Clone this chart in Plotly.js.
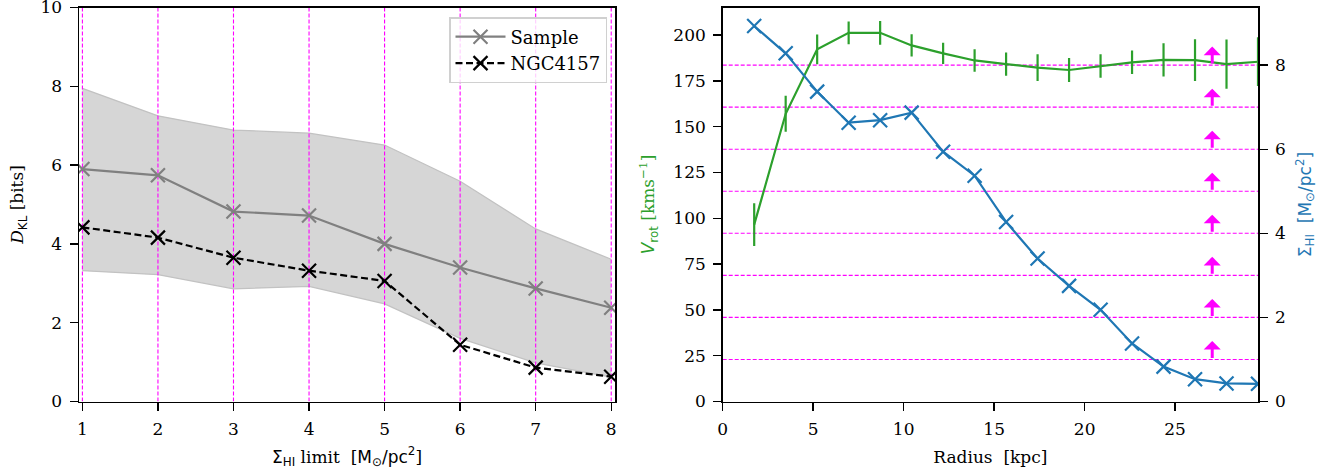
<!DOCTYPE html>
<html><head><meta charset="utf-8">
<script src="https://cdn.plot.ly/plotly-3.0.1.min.js"></script>
<style>html,body{margin:0;padding:0;background:#fff}#chart{width:1341px;height:475px}</style>
</head><body><div id="chart"></div>
<script>
// ---- Left panel data ----
const limits = [1, 2, 3, 4, 5, 6, 7, 8];
const sampleMedian = [5.90, 5.74, 4.82, 4.72, 4.00, 3.40, 2.87, 2.38];
const sampleUpper  = [7.95, 7.25, 6.89, 6.81, 6.51, 5.59, 4.38, 3.61];
const sampleLower  = [3.32, 3.22, 2.86, 2.92, 2.48, 1.60, 0.98, 0.62];
const ngcDkl       = [4.42, 4.16, 3.65, 3.32, 3.06, 1.44, 0.86, 0.63];

// ---- Right panel data ----
const radius  = [1.74, 3.48, 5.22, 6.96, 8.70, 10.44, 12.18, 13.92, 15.66, 17.40, 19.14, 20.88, 22.62, 24.36, 26.10, 27.84, 29.58];
const vrot    = [96.5, 157.0, 192.2, 201.2, 201.2, 194.3, 190.0, 186.1, 184.1, 182.2, 180.9, 183.1, 185.1, 186.4, 186.3, 184.1, 185.4];
const vrotErr = [11.7, 9.8, 8.1, 6.2, 6.5, 6.1, 5.8, 6.1, 6.3, 7.3, 6.5, 6.4, 6.4, 9.1, 11.4, 13.5, 13.3];
const sigmaHI = [8.93, 8.28, 7.37, 6.63, 6.69, 6.87, 5.94, 5.37, 4.27, 3.40, 2.75, 2.18, 1.38, 0.83, 0.53, 0.43, 0.42];
const sigmaLevels = [1, 2, 3, 4, 5, 6, 7, 8];
const arrowRadius = 27.05;
const arrowLen = 0.44;

const W = 1341, H = 475;
const fx = a => a / W, fy = b => 1 - b / H;
const SERIF = "DejaVu Serif";
const SANS = "DejaVu Sans";
const sans = t => `<span style="font-family:'DejaVu Sans'">${t}</span>`;
const MAG = "#ff00ff";

// magenta vertical lines (left)
const vx = [], vy = [];
limits.forEach(v => { vx.push(v, v, null); vy.push(0, 10, null); });

const traces = [
  {x: limits, y: sampleLower, mode: "lines", line: {color: "#c2c2c2", width: 1.3}, showlegend: false, hoverinfo: "skip", xaxis: "x", yaxis: "y"},
  {x: limits, y: sampleUpper, mode: "lines", fill: "tonexty", fillcolor: "#d6d6d6", line: {color: "#c2c2c2", width: 1.3}, showlegend: false, hoverinfo: "skip", xaxis: "x", yaxis: "y"},
  {x: vx, y: vy, mode: "lines", line: {color: MAG, width: 1.1, dash: "4px,2px"}, showlegend: false, hoverinfo: "skip", xaxis: "x", yaxis: "y"},
  {x: limits, y: sampleMedian, name: "Sample", mode: "lines+markers", line: {color: "#808080", width: 2.2},
   marker: {symbol: "x-thin", size: 14, line: {color: "#808080", width: 2.2}}, xaxis: "x", yaxis: "y"},
  {x: limits, y: ngcDkl, name: "NGC4157", mode: "lines+markers", line: {color: "#000000", width: 2.2, dash: "7px,3.5px"},
   marker: {symbol: "x-thin", size: 14, line: {color: "#000000", width: 2.2}}, xaxis: "x", yaxis: "y"},
  {x: radius, y: vrot, mode: "lines", line: {color: "#2ca02c", width: 2.2},
   error_y: {type: "data", array: vrotErr, visible: true, color: "#2ca02c", thickness: 2.2, width: 0},
   showlegend: false, xaxis: "x2", yaxis: "y2"},
  {x: radius, y: sigmaHI, mode: "lines+markers", line: {color: "#1f77b4", width: 2.2},
   marker: {symbol: "x-thin", size: 14, line: {color: "#1f77b4", width: 2.2}},
   showlegend: false, xaxis: "x2", yaxis: "y3"}
];

const shapes = sigmaLevels.map(l => ({type: "line", xref: "x2 domain", yref: "y3", x0: 0, x1: 1, y0: l, y1: l,
  line: {color: MAG, width: 1.1, dash: "4px,2px"}, layer: "below"}));

const annotations = sigmaLevels.map(l => ({xref: "x2", yref: "y3", axref: "x2", ayref: "y3",
  x: arrowRadius, y: l + arrowLen, ax: arrowRadius, ay: l, text: "", showarrow: true,
  arrowhead: 1, arrowsize: 0.95, arrowwidth: 3, arrowcolor: MAG, standoff: 0, startstandoff: 0}));

const FS = 17;
const tickFont = {family: SERIF, size: FS, color: "#000"};
const common = {showline: true, linecolor: "#000", linewidth: 1.5, ticks: "outside", ticklen: 8, tickwidth: 1.4,
  tickcolor: "#000", showgrid: false, zeroline: false, tickfont: tickFont, ticklabeloverflow: "allow", ticklabelstandoff: 4};

const layout = {
  width: W, height: H, margin: {l: 0, r: 0, t: 0, b: 0},
  paper_bgcolor: "#fff", plot_bgcolor: "#fff",
  font: {family: SERIF, size: FS, color: "#000"},
  xaxis: Object.assign({}, common, {domain: [fx(79), fx(615)], range: [0.955, 8.05], tickvals: limits, mirror: true, anchor: "y",
    title: {text: `${sans("Σ<sub>HI</sub>")} limit\u00a0 [${sans("M<sub>⊙</sub>/pc<sup>2</sup>")}]`, font: {family: SERIF, size: FS}, standoff: 12}}),
  yaxis: Object.assign({}, common, {domain: [fy(401.5), fy(7.5)], range: [0, 10], tickvals: [0, 2, 4, 6, 8, 10], mirror: true, anchor: "x",
    title: {text: `<i>D</i><sub>${sans("KL")}</sub> [bits]`, font: {family: SERIF, size: FS}, standoff: 12}}),
  xaxis2: Object.assign({}, common, {domain: [fx(722.7), fx(1258)], range: [0, 29.58], tickvals: [0, 5, 10, 15, 20, 25], mirror: true, anchor: "y2",
    title: {text: "Radius\u00a0 [kpc]", font: {family: SERIF, size: FS}, standoff: 12}}),
  yaxis2: Object.assign({}, common, {domain: [fy(401.5), fy(7.5)], range: [0, 215], tickvals: [0, 25, 50, 75, 100, 125, 150, 175, 200], anchor: "x2",
    title: {text: `${sans("<i>V</i><sub>rot</sub>")} [kms<sup>−1</sup>]`, font: {family: SERIF, size: FS, color: "#2ca02c"}, standoff: 14}}),
  yaxis3: Object.assign({}, common, {domain: [fy(401.5), fy(7.5)], range: [0, 9.37], tickvals: [0, 2, 4, 6, 8], anchor: "x2", overlaying: "y2", side: "right",
    title: {text: `${sans("Σ<sub>HI</sub>\u00a0 [M<sub>⊙</sub>/pc<sup>2</sup>]")}`, font: {family: SANS, size: FS, color: "#1f77b4"}, standoff: 14}}),
  legend: {x: fx(449), y: fy(17), xanchor: "left", yanchor: "top", traceorder: "normal", itemwidth: 50,
    bgcolor: "rgba(255,255,255,0.8)", bordercolor: "#d0d0d0", borderwidth: 1.5,
    font: {family: SERIF, size: 18, color: "#000"}},
  shapes: shapes, annotations: annotations
};

Plotly.newPlot("chart", traces, layout, {staticPlot: true, displayModeBar: false});
</script></body></html>
